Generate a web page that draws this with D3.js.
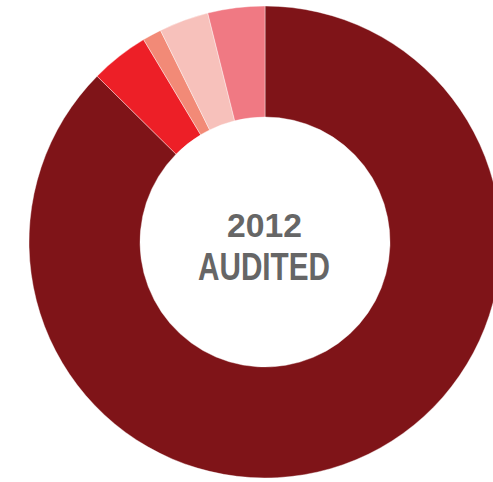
<!DOCTYPE html>
<html>
<head>
<meta charset="utf-8">
<script src="https://cdn.jsdelivr.net/npm/d3@7"></script>
<style>
  html, body { margin: 0; padding: 0; background: #fff; overflow: hidden; }
</style>
</head>
<body>
<div id="chart"></div>
<script>
// Slices, clockwise from 12 o'clock
const categories = ["Main", "Red", "Salmon", "Light pink", "Pink"];
const values = [87.4, 4.0, 1.3, 3.4, 3.9];
const colors = ["#7f1418", "#ed1f27", "#f28a77", "#f7c1bb", "#f07983"];
const centerLabel = ["2012", "AUDITED"];

const width = 493, height = 482;
const cx = 265, cy = 242;
const outerR = 236, innerR = 125;

const svg = d3.select("#chart")
    .append("svg")
    .attr("width", width)
    .attr("height", height);

const g = svg.append("g")
    .attr("transform", `translate(${cx},${cy})`);

const data = categories.map((c, i) => ({ name: c, value: values[i] }));

const color = d3.scaleOrdinal()
    .domain(categories)
    .range(colors);

const pie = d3.pie()
    .sort(null)
    .value(d => d.value);

const arc = d3.arc()
    .innerRadius(innerR)
    .outerRadius(outerR);

g.selectAll("path")
    .data(pie(data))
    .enter()
    .append("path")
    .attr("d", arc)
    .attr("fill", d => color(d.data.name))
    .attr("stroke", "#fff")
    .attr("stroke-width", 0.4);

// center text
const label = g.append("g")
    .attr("font-family", "'Liberation Sans', Arial, sans-serif")
    .attr("font-weight", "bold")
    .attr("fill", "#666")
    .attr("text-anchor", "middle");

label.append("text")
    .attr("x", -0.5)
    .attr("y", -5)
    .attr("font-size", 34)
    .attr("textLength", 75)
    .attr("lengthAdjust", "spacingAndGlyphs")
    .text(centerLabel[0]);

label.append("text")
    .attr("x", -1)
    .attr("y", 38)
    .attr("font-size", 39)
    .attr("textLength", 132)
    .attr("lengthAdjust", "spacingAndGlyphs")
    .text(centerLabel[1]);
</script>
</body>
</html>
